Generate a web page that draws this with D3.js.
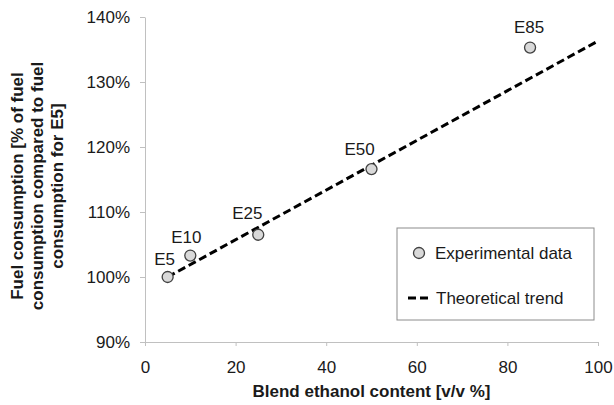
<!DOCTYPE html>
<html>
<head>
<meta charset="utf-8">
<script src="https://cdn.jsdelivr.net/npm/d3@7"></script>
<style>
  body { margin: 0; background: #fff; }
  svg text { font-family: "Liberation Sans", Arial, sans-serif; fill: #1a1a1a; }
</style>
</head>
<body>
<div id="chart"></div>
<script>
// experimental points
var blendNames = ["E5", "E10", "E25", "E50", "E85"];
var blendContent = [5, 10, 25, 50, 85];
var fuelUse = [100, 103.3, 106.5, 116.6, 135.3];

// theoretical trend line
var trendX = [5, 100];
var trendY = [100, 136.3];

var xTicks = [0, 20, 40, 60, 80, 100];
var yTicks = [90, 100, 110, 120, 130, 140];

// label nudges (px) - the labels in the original were placed by hand
var lblDx = [-3, -4, -11, -12, -1];
var lblDy = [-12, -13, -16, -14, -15];

var margin = {top: 17, right: 16, bottom: 63, left: 145},
    width = 614 - margin.left - margin.right,
    height = 405 - margin.top - margin.bottom;

var svg = d3.select("#chart").append("svg")
    .attr("width", 614)
    .attr("height", 405);

var g = svg.append("g")
    .attr("transform", "translate(" + margin.left + "," + margin.top + ")");

var x = d3.scaleLinear().domain([0, 100]).range([0, width]);
var y = d3.scaleLinear().domain([90, 140]).range([height, 0]);

// axes
var xAxis = g.append("g")
    .attr("transform", "translate(0," + height + ")")
    .call(d3.axisBottom(x).tickValues(xTicks).tickSize(4).tickSizeOuter(0).tickPadding(15));
var yAxis = g.append("g")
    .call(d3.axisLeft(y).tickValues(yTicks).tickSize(5).tickSizeOuter(0).tickPadding(10)
        .tickFormat(function (d) { return d + "%"; }));

[xAxis, yAxis].forEach(function (a) {
    a.select(".domain").attr("stroke", "#c0c0c0");
    a.selectAll(".tick line").attr("stroke", "#c0c0c0");
    a.selectAll(".tick text").style("font-size", "17px").attr("fill", "#1a1a1a");
});

// trend
var line = d3.line()
    .x(function (d) { return x(d[0]); })
    .y(function (d) { return y(d[1]); });
g.append("path")
    .datum(d3.zip(trendX, trendY))
    .attr("d", line)
    .attr("fill", "none")
    .attr("stroke", "#000")
    .attr("stroke-width", 3)
    .attr("stroke-dasharray", "8,4");

var pts = d3.range(blendNames.length);

g.selectAll(".pt")
    .data(pts)
    .enter().append("circle")
    .attr("class", "pt")
    .attr("cx", function (i) { return x(blendContent[i]); })
    .attr("cy", function (i) { return y(fuelUse[i]); })
    .attr("r", 5.5)
    .attr("fill", "#d9d9d9")
    .attr("stroke", "#404040")
    .attr("stroke-width", 1.3);

g.selectAll(".lbl")
    .data(pts)
    .enter().append("text")
    .attr("class", "lbl")
    .attr("x", function (i) { return x(blendContent[i]) + lblDx[i]; })
    .attr("y", function (i) { return y(fuelUse[i]) + lblDy[i]; })
    .attr("text-anchor", "middle")
    .style("font-size", "17px")
    .text(function (i) { return blendNames[i]; });

// legend
var lg = svg.append("g").attr("transform", "translate(397,228)");
lg.append("rect")
    .attr("width", 197).attr("height", 92)
    .attr("fill", "#fff").attr("stroke", "#8c8c8c").attr("stroke-width", 1);
lg.append("circle")
    .attr("cx", 22).attr("cy", 25).attr("r", 5.5)
    .attr("fill", "#d9d9d9").attr("stroke", "#404040").attr("stroke-width", 1.3);
lg.append("text").attr("x", 38).attr("y", 31).style("font-size", "17px").text("Experimental data");
lg.append("line")
    .attr("x1", 11).attr("x2", 34).attr("y1", 70).attr("y2", 70)
    .attr("stroke", "#000").attr("stroke-width", 3).attr("stroke-dasharray", "8,4");
lg.append("text").attr("x", 39).attr("y", 76).style("font-size", "17px").text("Theoretical trend");

// axis titles
svg.append("text")
    .attr("x", margin.left + width / 2)
    .attr("y", 397)
    .attr("text-anchor", "middle")
    .style("font-size", "17px").style("font-weight", "bold")
    .text("Blend ethanol content [v/v %]");

var yTitle = ["Fuel consumption [% of fuel", "consumption compared to fuel", "consumption for E5]"];
svg.append("g")
    .attr("transform", "translate(17,186) rotate(-90)")
    .selectAll("text")
    .data(yTitle)
    .enter().append("text")
    .attr("x", 0)
    .attr("y", function (d, i) { return 6 + i * 20; })
    .attr("text-anchor", "middle")
    .style("font-size", "17px").style("font-weight", "bold")
    .text(function (d) { return d; });
</script>
</body>
</html>
